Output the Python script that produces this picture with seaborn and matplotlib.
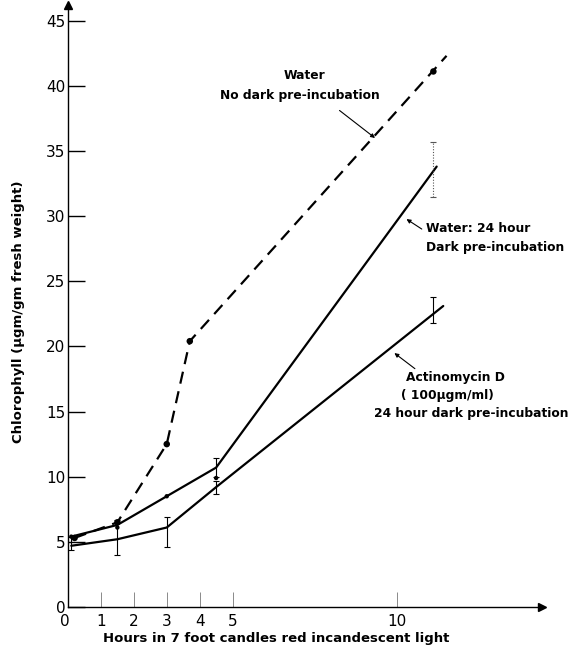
import matplotlib
matplotlib.use("Agg")
import matplotlib.pyplot as plt
import seaborn as sns
import pandas as pd

# ---------------- data ----------------
# Water, no dark pre-incubation (dashed)
nodark_x = [0.2, 1.5, 3.0, 3.7, 11.1]
nodark_y = [5.3, 6.5, 12.5, 20.4, 41.1]
nodark_line_x = [0.2, 1.5, 3.0, 3.7, 11.5]
nodark_line_y = [5.3, 6.5, 12.5, 20.4, 42.3]

# Water, 24 hour dark pre-incubation (solid)
dark_x = [0.1, 1.5, 3.0, 4.5, 11.2]
dark_y = [5.4, 6.3, 8.5, 10.7, 33.8]
dark_err_x = [4.5, 11.1]
dark_err_y = [10.7, 33.6]
dark_err = [0.7, 2.1]
dark_dots_x = [0.1, 1.5, 3.0, 4.5]
dark_dots_y = [5.4, 6.1, 8.5, 9.9]

# Actinomycin D (solid)
act_x = [0.1, 1.5, 3.0, 4.5, 11.4]
act_y = [4.7, 5.2, 6.1, 9.2, 23.1]
act_err_x = [0.1, 1.5, 3.0, 4.5, 11.1]
act_err_y = [4.9, 5.35, 5.75, 9.2, 22.8]
act_err = [0.5, 1.35, 1.15, 0.5, 1.0]

x_ticks = [1, 2, 3, 4, 5, 10]
x_ticklabels = ["1", "2", "3", "4", "5", "10"]
y_ticks = [0, 5, 10, 15, 20, 25, 30, 35, 40, 45]

sns.set_style("white")
plt.rcParams["font.family"] = ["DejaVu Sans"]
plt.rcParams["text.color"] = "black"
plt.rcParams["axes.labelcolor"] = "black"
plt.rcParams["xtick.color"] = "black"
plt.rcParams["ytick.color"] = "black"

fig = plt.figure(figsize=(5.86, 6.58), dpi=100)
ax = fig.add_axes([68 / 586, 1 - 607 / 658, (542 - 68) / 586, (607 - 5) / 658])

df_nd = pd.DataFrame({"x": nodark_line_x, "y": nodark_line_y})
df_d = pd.DataFrame({"x": dark_x, "y": dark_y})
df_a = pd.DataFrame({"x": act_x, "y": act_y})

sns.lineplot(data=df_nd, x="x", y="y", ax=ax, color="black", lw=1.6,
             linestyle=(0, (5.5, 3.5)), sort=False)
sns.lineplot(data=df_d, x="x", y="y", ax=ax, color="black", lw=1.6, sort=False)
sns.lineplot(data=df_a, x="x", y="y", ax=ax, color="black", lw=1.6, sort=False)

sns.scatterplot(x=nodark_x, y=nodark_y, ax=ax, color="black", s=22, edgecolor="none", zorder=5)
sns.scatterplot(x=dark_dots_x, y=dark_dots_y, ax=ax, color="black", s=10, edgecolor="none", zorder=5)

ax.errorbar(act_err_x, act_err_y, yerr=act_err, fmt="none", ecolor="black",
            elinewidth=0.8, capsize=2, capthick=0.8)
ax.errorbar(dark_err_x[:1], dark_err_y[:1], yerr=dark_err[:1], fmt="none", ecolor="black",
            elinewidth=0.8, capsize=2, capthick=0.8)
eb = ax.errorbar(dark_err_x[1:], dark_err_y[1:], yerr=dark_err[1:], fmt="none", ecolor="#555555",
                 elinewidth=0.8, capsize=2, capthick=0.8)
eb[2][0].set_linestyle((0, (1, 1.5)))

ax.set_xlim(0, 14.4)
ax.set_ylim(0, 46.2)

for s in ["top", "right"]:
    ax.spines[s].set_visible(False)
for s in ["left", "bottom"]:
    ax.spines[s].set_color("black")
    ax.spines[s].set_linewidth(1.0)

ax.plot(1, 0, ">k", transform=ax.get_yaxis_transform(), clip_on=False, markersize=6)
ax.plot(0, 1, "^k", transform=ax.get_xaxis_transform(), clip_on=False, markersize=6)

ax.set_yticks(y_ticks)
ax.set_yticklabels([str(v) for v in y_ticks])
ax.tick_params(axis="y", direction="in", length=12, width=1.0, pad=2,
               labelsize=11, color="black", labelcolor="black", left=True)
ax.set_xticks(x_ticks)
ax.set_xticklabels(x_ticklabels)
ax.tick_params(axis="x", direction="in", length=11, width=0.6, pad=5,
               labelsize=11, color="#777777", labelcolor="black", bottom=True)
ax.text(-0.006, -0.0116, "0", transform=ax.transAxes, ha="center", va="top", fontsize=11)

ax.set_xlabel("Hours in 7 foot candles red incandescent light", fontsize=9.5,
              fontweight="bold", color="black")
ax.xaxis.set_label_coords(0.44, -0.041)
ax.set_ylabel("Chlorophyll (\u03bcgm/gm fresh weight)", fontsize=9.5,
              fontweight="bold", color="black")
ax.yaxis.set_label_coords(-0.091, 0.49)

def px(xp, yp):
    return ((xp - 68) / 33.0, (607 - yp) / 13.05)

# annotations
kw = dict(fontsize=8.8, fontweight="bold", color="black")
ax.text(*px(305, 75), "Water", ha="center", va="center", **kw)
ax.text(*px(300, 95), "No dark pre-incubation", ha="center", va="center", **kw)
ax.annotate("", xy=px(378, 139), xytext=px(338, 108),
            arrowprops=dict(arrowstyle="-|>", color="black", lw=0.8, mutation_scale=6))

ax.text(*px(427, 228), "Water: 24 hour", ha="left", va="center", **kw)
ax.text(*px(427, 247), "Dark pre-incubation", ha="left", va="center", **kw)
ax.annotate("", xy=px(405, 217), xytext=px(425, 230),
            arrowprops=dict(arrowstyle="-|>", color="black", lw=0.8, mutation_scale=6))

ax.text(*px(407, 377), "Actinomycin D", ha="left", va="center", **kw)
ax.text(*px(402, 395), "( 100\u03bcgm/ml)", ha="left", va="center", **kw)
ax.text(*px(375, 413), "24 hour dark pre-incubation", ha="left", va="center", **kw)
ax.annotate("", xy=px(393, 351), xytext=px(418, 370),
            arrowprops=dict(arrowstyle="-|>", color="black", lw=0.8, mutation_scale=6))

fig.savefig("out.png", dpi=100, facecolor="white")
